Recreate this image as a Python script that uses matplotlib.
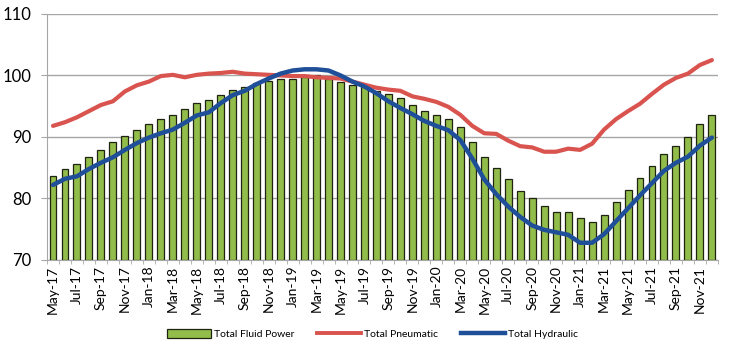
import numpy as np
import matplotlib
matplotlib.use("Agg")
import matplotlib.pyplot as plt
from matplotlib.patches import Patch
from matplotlib.lines import Line2D

plt.rcParams['font.family'] = ['Lato', 'DejaVu Sans']

# months May-17 .. Dec-21
month_names = ['Jan', 'Feb', 'Mar', 'Apr', 'May', 'Jun',
               'Jul', 'Aug', 'Sep', 'Oct', 'Nov', 'Dec']
months = []
for k in range(56):
    m = (4 + k) % 12
    y = 17 + (4 + k) // 12
    months.append('%s-%d' % (month_names[m], y))

fluid_power = [83.7, 84.8, 85.6, 86.8, 87.8, 89.1, 90.2, 91.1, 92.1, 92.9,
               93.6, 94.6, 95.5, 96.0, 96.8, 97.6, 98.1, 98.7, 99.1, 99.4,
               99.5, 99.8, 100.0, 99.5, 99.0, 98.5, 98.1, 97.5, 97.0, 96.4,
               95.2, 94.2, 93.6, 92.9, 91.7, 89.2, 86.8, 84.9, 83.1, 81.2,
               80.0, 78.7, 77.8, 77.8, 76.8, 76.1, 77.3, 79.4, 81.3, 83.3,
               85.2, 87.2, 88.6, 90.0, 92.1, 93.6]

pneumatic = [91.8, 92.4, 93.2, 94.2, 95.2, 95.8, 97.4, 98.4, 99.0, 99.9,
             100.1, 99.7, 100.1, 100.3, 100.4, 100.6, 100.3, 100.2, 100.1, 100.0,
             99.9, 99.9, 99.7, 99.6, 99.5, 99.0, 98.5, 98.0, 97.7, 97.5,
             96.6, 96.2, 95.7, 94.9, 93.6, 91.8, 90.6, 90.5, 89.4, 88.5,
             88.3, 87.6, 87.6, 88.1, 87.9, 88.9, 91.2, 92.9, 94.2, 95.4,
             97.0, 98.5, 99.6, 100.3, 101.7, 102.5]

hydraulic = [82.2, 83.2, 83.6, 84.8, 85.8, 86.7, 87.9, 89.0, 89.9, 90.6,
             91.2, 92.3, 93.5, 94.0, 95.5, 96.8, 97.5, 98.6, 99.5, 100.3,
             100.8, 101.0, 101.0, 100.8, 100.0, 99.0, 98.2, 97.1, 95.8, 94.7,
             93.7, 92.6, 91.8, 91.1, 89.5, 86.5, 83.1, 80.7, 78.7, 77.0,
             75.6, 74.9, 74.5, 74.1, 72.8, 72.8, 74.2, 76.3, 78.4, 80.5,
             82.5, 84.5, 85.8, 86.8, 88.6, 89.9]

green = '#93bd4a'
red = '#d9534f'
blue = '#1f4f99'

fig = plt.figure(figsize=(7.3, 3.52), dpi=100)
ax = fig.add_axes([0.0644, 0.2614, 0.919, 0.699])

x = np.arange(len(months))
ax.bar(x, np.array(fluid_power) - 70, bottom=70, width=0.58, color=green,
       edgecolor='#1e2410', linewidth=0.9, zorder=2)
ax.plot(x, pneumatic, color=red, linewidth=3.0, zorder=3, solid_capstyle='round')
ax.plot(x, hydraulic, color=blue, linewidth=3.2, zorder=4, solid_capstyle='round')

ax.set_xlim(-0.5, len(months) - 0.5)
ax.set_ylim(70, 110)
ax.set_yticks([70, 80, 90, 100, 110])
ax.yaxis.grid(True, color='#a6a6a6', linewidth=1.0, zorder=0)
ax.set_axisbelow(True)

ax.set_xticks(x[::2])
ax.set_xticklabels(months[::2], rotation=90, fontsize=10)
ax.set_xticks(np.arange(-0.5, len(months), 1), minor=True)
ax.tick_params(axis='x', which='major', length=0, pad=4)
ax.tick_params(axis='x', which='minor', length=3, color='#a6a6a6')
ax.tick_params(axis='y', labelsize=12, length=4, color='#a6a6a6', pad=7)

for s in ['top', 'right']:
    ax.spines[s].set_visible(False)
ax.spines['left'].set_color('#a6a6a6')
ax.spines['bottom'].set_color('#a6a6a6')

handles = [Patch(facecolor=green, edgecolor='#1e2410', linewidth=0.9),
           Line2D([], [], color=red, linewidth=2.8),
           Line2D([], [], color=blue, linewidth=3.2)]
labels = ['Total Fluid Power', 'Total Pneumatic', 'Total Hydraulic']
fig.legend(handles, labels, loc='center', bbox_to_anchor=(0.51, 0.05), ncol=3,
           frameon=False, fontsize=7.5, handlelength=4.2, handleheight=0.9,
           columnspacing=2.2, handletextpad=0.3)

fig.savefig('out.png', dpi=100, facecolor='white')
